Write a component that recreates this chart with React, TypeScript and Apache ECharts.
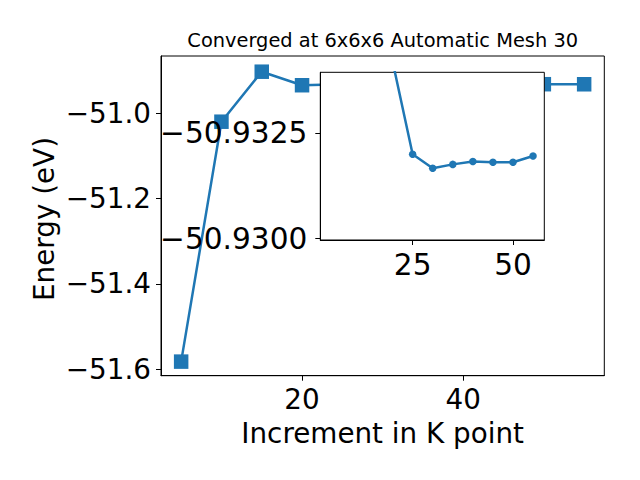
import React, { useEffect, useRef } from "react";
import * as echarts from "echarts";

const kPoints = [5, 10, 15, 20, 25, 30, 35, 40, 45, 50, 55];
const energies = [
  -51.582, -51.0197, -50.9025, -50.9342, -50.932, -50.93167, -50.93176,
  -50.93183, -50.93181, -50.93181, -50.93196,
];
// the inset shows the converged part of the curve, from 20 k-points on
const insetStartIndex = 3;
const mainXTicks = [20, 40];
const mainYTicks = [-51.6, -51.4, -51.2, -51.0];
const insetXTicks = [25, 50];
const insetYTicks = [-50.9325, -50.93];
const titleText = "Converged at 6x6x6 Automatic Mesh 30";
const xName = "Increment in K point";
const yName = "Energy (eV)";

const FONT = "DejaVu Sans";
const BLUE = "#1f77b4";

const minus = (s: string) => s.replace("-", "\u2212");

export default function App() {
  const ref = useRef<HTMLDivElement>(null);
  useEffect(() => {
    if (!ref.current) return;
    const chart = echarts.init(ref.current, null, { renderer: "svg" });
    const data = kPoints.map((k, i) => [k, energies[i]]);
    const insetData = data.slice(insetStartIndex);
    const tickStyle = { show: true, inside: false, length: 5, lineStyle: { color: "#000", width: 1 } };
    const labelStyle = { color: "#000", fontSize: 27.8, fontFamily: FONT, margin: 10 };
    const insetLabelStyle = { color: "#000", fontSize: 29.6, fontFamily: FONT, margin: 10 };
    chart.setOption({
      animation: false,
      backgroundColor: "#fff",
      title: {
        text: titleText,
        left: 382.7,
        top: 31,
        textAlign: "center",
        padding: 0,
        textStyle: { fontSize: 19.4, fontFamily: FONT, fontWeight: "normal", color: "#000" },
      },
      graphic: [
        {
          type: "text",
          x: 44,
          y: 219,
          rotation: Math.PI / 2,
          style: {
            text: yName,
            fontSize: 27.8,
            fontFamily: FONT,
            fill: "#000",
            align: "center",
            verticalAlign: "middle",
          },
        },
      ],
      grid: [
        {
          left: 161, top: 56, width: 443.3, height: 319.7,
          show: true, backgroundColor: "#fff", borderColor: "#000", borderWidth: 1, z: 0,
        },
        {
          left: 320.3, top: 72.3, width: 224, height: 167.7,
          show: true, backgroundColor: "#fff", borderColor: "#000", borderWidth: 1, z: 5,
        },
      ],
      xAxis: [
        {
          type: "value", gridIndex: 0, min: 2.5, max: 57.5,
          splitLine: { show: false },
          axisLine: { show: true, lineStyle: { color: "#000", width: 1 } },
          axisTick: { ...tickStyle, customValues: mainXTicks },
          axisLabel: { ...labelStyle, customValues: mainXTicks, formatter: (v: number) => minus(String(v)) },
          name: xName, nameLocation: "middle", nameGap: 44,
          nameTextStyle: { fontSize: 27.8, fontFamily: FONT, color: "#000" },
        },
        {
          type: "value", gridIndex: 1, min: 2.0, max: 57.8, z: 7,
          splitLine: { show: false },
          axisLine: { show: true, lineStyle: { color: "#000", width: 1 } },
          axisTick: { ...tickStyle, customValues: insetXTicks },
          axisLabel: { ...insetLabelStyle, customValues: insetXTicks, formatter: (v: number) => minus(String(v)) },
        },
      ],
      yAxis: [
        {
          type: "value", gridIndex: 0, min: -51.615, max: -50.8657,
          splitLine: { show: false },
          axisLine: { show: true, lineStyle: { color: "#000", width: 1 } },
          axisTick: { ...tickStyle, customValues: mainYTicks },
          axisLabel: { ...labelStyle, customValues: mainYTicks, formatter: (v: number) => minus(v.toFixed(1)) },
        },
        {
          type: "value", gridIndex: 1, min: -50.93394, max: -50.92997, inverse: true, z: 7,
          splitLine: { show: false },
          axisLine: { show: true, lineStyle: { color: "#000", width: 1 } },
          axisTick: { ...tickStyle, customValues: insetYTicks },
          axisLabel: { ...insetLabelStyle, margin: 13, customValues: insetYTicks, formatter: (v: number) => minus(v.toFixed(4)) },
        },
      ],
      series: [
        {
          type: "line", xAxisIndex: 0, yAxisIndex: 0, data, z: 2,
          symbol: "rect", symbolSize: 14.5,
          lineStyle: { color: BLUE, width: 2.5 },
          itemStyle: { color: BLUE },
        },
        {
          type: "line", xAxisIndex: 1, yAxisIndex: 1, data: insetData, z: 6,
          symbol: "circle", symbolSize: 7.5,
          lineStyle: { color: BLUE, width: 2.5 },
          itemStyle: { color: BLUE },
        },
      ],
    });
    return () => chart.dispose();
  }, []);
  return (
    <div
      ref={ref}
      style={{ position: "fixed", left: 0, top: 0, width: 640, height: 480 }}
    />
  );
}
